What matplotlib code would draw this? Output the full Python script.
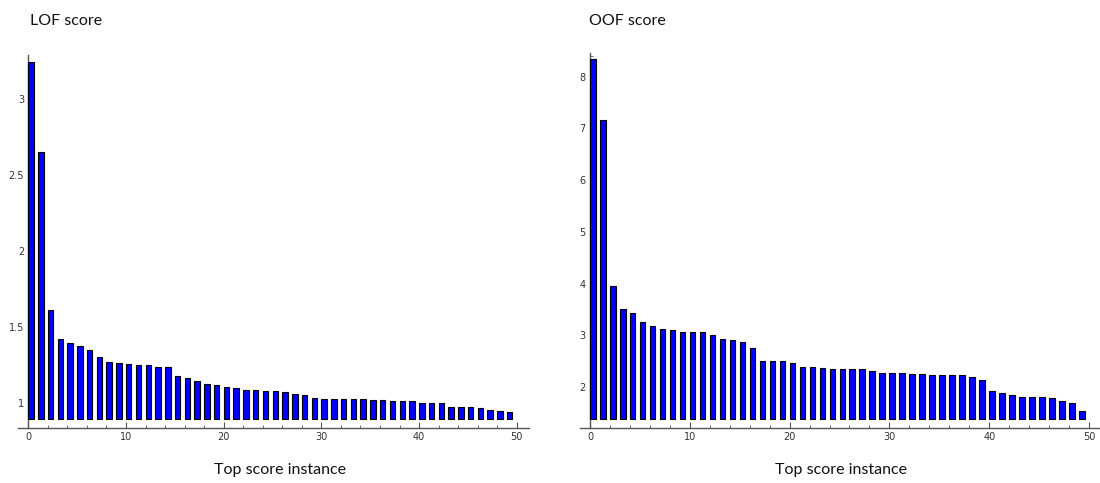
import matplotlib

matplotlib.use("Agg")
import matplotlib.pyplot as plt
from matplotlib.ticker import FormatStrFormatter, MultipleLocator

# top-50 outlier scores, sorted descending
lof_scores = [
    3.24, 2.65, 1.61, 1.42, 1.39, 1.37, 1.35, 1.30, 1.27, 1.26,
    1.257, 1.25, 1.25, 1.233, 1.233, 1.174, 1.162, 1.14, 1.123, 1.118,
    1.105, 1.10, 1.083, 1.083, 1.079, 1.075, 1.068, 1.055, 1.05, 1.033,
    1.026, 1.026, 1.022, 1.022, 1.022, 1.018, 1.018, 1.013, 1.009, 1.009,
    1.0, 0.996, 0.996, 0.974, 0.97, 0.97, 0.965, 0.952, 0.947, 0.939,
]
oof_scores = [
    8.34, 7.16, 3.95, 3.51, 3.43, 3.25, 3.18, 3.12, 3.11, 3.06,
    3.06, 3.06, 3.01, 2.93, 2.90, 2.87, 2.76, 2.50, 2.50, 2.50,
    2.46, 2.39, 2.39, 2.37, 2.34, 2.34, 2.34, 2.34, 2.30, 2.28,
    2.28, 2.28, 2.26, 2.26, 2.24, 2.24, 2.23, 2.23, 2.19, 2.14,
    1.93, 1.88, 1.84, 1.81, 1.81, 1.80, 1.79, 1.735, 1.70, 1.535,
]
titles = ["LOF score", "OOF score"]
xlabel = "Top score instance"

TXT_FONT = ["Lato", "DejaVu Sans"]
W, H = 1100, 483


def bar_panel(fig, rect, scores, base, ylim, xlim, ymajor, yminor, title, title_x):
    ax = fig.add_axes(rect)
    idx = list(range(len(scores)))
    ax.bar(idx, [s - base for s in scores], width=0.56, bottom=base, align="edge",
           color="#0000ff", edgecolor="black", linewidth=0.8, zorder=3)
    ax.set_xlim(*xlim)
    ax.set_ylim(*ylim)
    for s in ("top", "right"):
        ax.spines[s].set_visible(False)
    ax.spines["left"].set_position(("data", 0))
    for s in ("left", "bottom"):
        ax.spines[s].set_color("#555555")
        ax.spines[s].set_linewidth(1.0)
    ax.xaxis.set_major_locator(MultipleLocator(10))
    ax.xaxis.set_minor_locator(MultipleLocator(2))
    ax.yaxis.set_major_locator(MultipleLocator(ymajor))
    ax.yaxis.set_minor_locator(MultipleLocator(yminor))
    ax.yaxis.set_major_formatter(FormatStrFormatter("%g"))
    ax.tick_params(which="both", direction="in", color="#555555",
                   labelsize=7, labelcolor="#333333")
    ax.tick_params(which="major", length=4, width=0.8)
    ax.tick_params(which="minor", length=2.5, width=0.6)
    ax.tick_params(axis="x", pad=3)
    ax.tick_params(axis="y", pad=3)
    ax.patch.set_alpha(0)
    fig.text(title_x / W, 1 - 21 / H, title, family=TXT_FONT, fontsize=11.5,
             va="center", ha="left", color="#111111")
    return ax


fig = plt.figure(figsize=(W / 100, H / 100), dpi=100)

bar_panel(fig, [18 / W, 55 / H, 510.5 / W, 373 / H], lof_scores, 0.89,
          (0.834, 3.287), (-1.05, 51.2), 0.5, 0.1, titles[0], 30)
bar_panel(fig, [580 / W, 55.3 / H, 519 / W, 375 / H], oof_scores, 1.375,
          (1.213, 8.464), (-1.0, 51.0), 1, 0.2, titles[1], 589)

fig.text(280 / W, 1 - 470 / H, xlabel, family=TXT_FONT, fontsize=11.5,
         ha="center", va="center", color="#111111")
fig.text(841 / W, 1 - 470 / H, xlabel, family=TXT_FONT, fontsize=11.5,
         ha="center", va="center", color="#111111")

fig.savefig("out.png", dpi=100)
